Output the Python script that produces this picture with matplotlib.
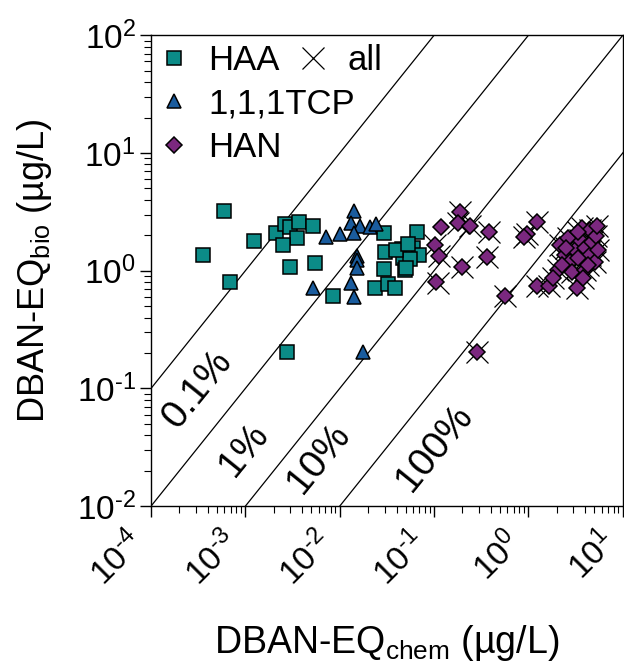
import numpy as np
import matplotlib
matplotlib.use("Agg")
import matplotlib.pyplot as plt
from matplotlib.lines import Line2D
from matplotlib.ticker import LogLocator, FuncFormatter

plt.rcParams['font.family'] = ['Liberation Sans', 'DejaVu Sans']
plt.rcParams['mathtext.default'] = 'regular'

# HAA (squares)
haa_x = [3.56e-4, 5.9e-4, 6.9e-4, 1.23e-3, 2.1e-3, 2.6e-3, 2.96e-3, 3.7e-3, 5.2e-3, 3.5e-3,
         2.5e-3, 3.0e-3, 5.5e-3, 8.5e-3, 2.76e-3, 0.0294, 0.0301, 0.0294, 0.0236, 0.0324,
         0.0385, 0.0456, 0.0467, 0.049, 0.0657, 0.0596, 0.069, 0.0555, 0.0503, 0.0394, 0.0527]
haa_y = [1.35, 3.2, 0.80, 1.8, 2.1, 2.5, 2.35, 2.6, 2.4, 1.9,
         1.65, 1.07, 1.16, 0.61, 0.203, 2.08, 1.43, 1.03, 0.72, 0.77,
         0.71, 1.52, 1.28, 1.01, 2.12, 1.55, 1.35, 1.25, 1.05, 1.49, 1.68]

# 1,1,1TCP (triangles)
tcp_x = [0.0141, 0.0131, 0.0164, 0.0209, 0.0242, 7.1e-3, 0.0100, 0.0141, 0.0152, 0.0152,
         0.0152, 0.0131, 5.2e-3, 0.0141, 0.0176]
tcp_y = [3.2, 2.53, 2.39, 2.34, 2.48, 1.93, 2.04, 2.08, 1.33, 1.23,
         1.05, 0.78, 0.71, 0.60, 0.203]

# HAN (diamonds)
han_x = [0.1875, 0.118, 0.179, 0.239, 0.102, 0.112, 0.104, 0.197, 0.381, 0.362,
         0.562, 0.284, 1.23, 0.96, 0.89, 1.23, 1.64, 3.26, 3.68, 4.47,
         2.15, 2.43, 2.75, 3.1, 3.5, 3.96, 4.47, 5.05, 2.88, 2.05,
         1.81, 3.96, 4.7, 2.62, 3.34, 5.18, 2.26, 3.34, 4.26, 2.5,
         5.43, 3.77, 5.3]
han_y = [3.14, 2.34, 2.53, 2.39, 1.65, 1.33, 0.80, 1.07, 2.12, 1.30,
         0.61, 0.203, 2.58, 2.04, 1.93, 0.74, 0.74, 0.72, 2.30, 2.21,
         1.65, 1.36, 1.18, 1.49, 1.82, 1.55, 1.36, 1.18, 0.97, 1.01,
         0.86, 1.01, 1.75, 1.89, 2.12, 1.96, 1.11, 1.28, 1.11, 1.55,
         1.49, 0.86, 2.39]

# all (crosses)
all_x = [0.1875, 0.179, 0.239, 0.102, 0.112, 0.109, 0.197, 0.381, 0.362,
         0.562, 0.284, 1.23, 0.96, 0.89, 1.23, 1.64, 3.26, 3.68, 4.47,
         2.15, 2.43, 2.75, 3.1, 3.5, 3.96, 4.47, 5.05, 2.88, 2.05,
         1.81, 3.96, 4.7, 2.62, 3.34, 5.18, 2.26, 3.34, 4.26, 2.5,
         5.43, 3.77, 5.3]
all_y = [3.14, 2.53, 2.39, 1.65, 1.33, 0.78, 1.07, 2.12, 1.30,
         0.61, 0.203, 2.58, 2.04, 1.93, 0.74, 0.74, 0.72, 2.30, 2.21,
         1.65, 1.36, 1.18, 1.49, 1.82, 1.55, 1.36, 1.18, 0.97, 1.01,
         0.86, 1.01, 1.75, 1.89, 2.12, 1.96, 1.11, 1.28, 1.11, 1.55,
         1.49, 0.86, 2.39]

pct_labels = ['0.1%', '1%', '10%', '100%']
pct_factor = [1000, 100, 10, 1]
pct_pos = [(3.1e-4, 0.098), (9.6e-4, 0.030), (6.0e-3, 0.0256), (0.102, 0.0311)]

c_haa = '#0b8b87'
c_tcp = '#1a5c9e'
c_han = '#7b287f'


def pow10(v, pos):
    e = int(round(np.log10(v)))
    if e < 0:
        return '$10^{\u2010%d}$' % (-e)
    return '$10^{%d}$' % e


fig = plt.figure(figsize=(6.24, 6.66), dpi=100)
ax = fig.add_axes([0.242, 0.240, 0.756, 0.707])
ax.set_xscale('log')
ax.set_yscale('log')
ax.set_xlim(1e-4, 1e1)
ax.set_ylim(1e-2, 1e2)
for axis in (ax.xaxis, ax.yaxis):
    axis.set_major_locator(LogLocator(base=10, numticks=20))
    axis.set_minor_locator(LogLocator(base=10, subs=np.arange(2, 10), numticks=20))
    axis.set_major_formatter(FuncFormatter(pow10))

xs = np.array([1e-6, 1e2])
for f in pct_factor:
    ax.plot(xs, xs * f, color='k', lw=0.9, zorder=1)
for lab, (tx, ty) in zip(pct_labels, pct_pos):
    ax.text(tx, ty, lab, fontsize=28, rotation=51, ha='center', va='center')

ax.plot(all_x, all_y, ls='none', marker='x', ms=16, mew=0.9, color='k', zorder=2)
ax.plot(haa_x, haa_y, ls='none', marker='s', ms=10, mfc=c_haa, mec='k', mew=1.1, zorder=3)
ax.plot(tcp_x, tcp_y, ls='none', marker='^', ms=10.5, mfc=c_tcp, mec='k', mew=1.1, zorder=3)
ax.plot(han_x, han_y, ls='none', marker='D', ms=8.5, mfc=c_han, mec='k', mew=1.1, zorder=3)

h1 = [Line2D([], [], ls='none', marker='s', ms=10, mfc=c_haa, mec='k', mew=1.1),
      Line2D([], [], ls='none', marker='^', ms=10.5, mfc=c_tcp, mec='k', mew=1.1),
      Line2D([], [], ls='none', marker='D', ms=8.5, mfc=c_han, mec='k', mew=1.1)]
leg1 = ax.legend(h1, ['HAA', '1,1,1TCP', 'HAN'], loc='upper left', frameon=False,
                 fontsize=25, handlelength=0.8, handletextpad=0.6, labelspacing=0.3,
                 borderaxespad=0.05, borderpad=0.2)
ax.add_artist(leg1)
h2 = [Line2D([], [], ls='none', marker='x', ms=16, mew=0.9, color='k')]
ax.legend(h2, ['all'], loc='upper left', bbox_to_anchor=(0.295, 1.0), frameon=False,
          fontsize=25, handlelength=0.8, handletextpad=0.6, borderaxespad=0.05, borderpad=0.2)

ax.tick_params(which='major', direction='out', length=8, width=1, labelsize=24, pad=3)
ax.tick_params(axis='x', which='major', pad=6)
ax.tick_params(which='minor', direction='out', length=5, width=0.8, labelleft=False, labelbottom=False)
plt.setp(ax.get_xticklabels(), rotation=45, ha='right')
for s in ax.spines.values():
    s.set_linewidth(1)

ax.set_xlabel('DBAN-EQ$_{chem}$ (µg/L)', fontsize=27, labelpad=22)
ax.set_ylabel('DBAN-EQ$_{bio}$ (µg/L)', fontsize=26, labelpad=16)

fig.savefig('out.png', dpi=100)
